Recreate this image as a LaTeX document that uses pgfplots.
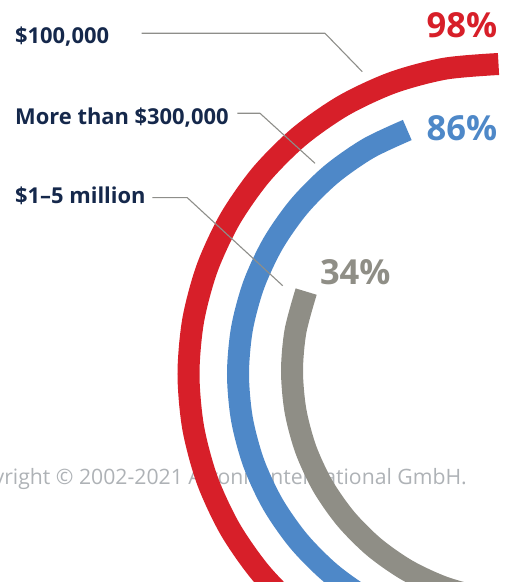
\documentclass[border=0pt]{standalone}
\usepackage{pgfplots}
\pgfplotsset{compat=1.18}
\usepackage{fontspec}
\setmainfont{Open Sans}

\definecolor{ringred}{HTML}{D71F29}
\definecolor{ringblue}{HTML}{4E88C8}
\definecolor{ringgray}{HTML}{8F8E86}
\definecolor{navy}{HTML}{15284B}
\definecolor{leadergray}{HTML}{8E8E8A}
\definecolor{copygray}{HTML}{AEB2B6}

\tikzset{
  lab/.style={font=\bfseries\fontsize{21.9bp}{24bp}\selectfont, text=navy, anchor=base west, inner sep=0pt},
  pct/.style={font=\bfseries\fontsize{34.5bp}{38bp}\selectfont, anchor=base east, inner sep=0pt},
}

\begin{document}
\begin{tikzpicture}
\path[use as bounding box] (0,0) rectangle (514bp,582bp);
\begin{axis}[
  at={(0,0)}, anchor=south west,
  x=1bp, y=1bp,
  xmin=-498.5, xmax=15.5, ymin=-208, ymax=374,
  hide axis, enlargelimits=false, clip=true,
  ring/.style={line width=22bp, smooth, no markers, data cs=polar},
  leader/.style={line width=1.1bp, leadergray, no markers},
]
% watermark sits under the rings
\node[font=\fontsize{21.2bp}{24bp}\selectfont, text=copygray, anchor=base east, inner sep=0pt]
  at (axis cs:-31.5,-110.3) {Copyright © 2002-2021 Atronic International GmbH.};

% $100,000 -- 98%
\addplot[ring, ringred] coordinates {
  (90,310) (100,310) (110,310) (120,310) (130,310) (140,310) (150,310)
  (160,310) (170,310) (180,310) (190,310) (200,310) (210,310) (220,310)
  (230,310) (240,310) (250,310) (260,310)
};
% More than $300,000 -- 86%
\addplot[ring, ringblue] coordinates {
  (110.5,260.5) (120,260.5) (130,260.5) (140,260.5) (150,260.5) (160,260.5)
  (170,260.5) (180,260.5) (190,260.5) (200,260.5) (210,260.5) (220,260.5)
  (230,260.5) (240,260.5) (250,260.5) (260,260.5)
};
% $1-5 million -- 34%
\addplot[ring, ringgray, xshift=23.5bp, yshift=3bp] coordinates {
  (159.8,230) (170,230) (180,230) (190,230) (200,230) (210,230) (220,230)
  (230,230) (240,230) (250,230) (260,230) (270,230) (280,230) (290,230)
  (300,230)
};

% leader lines
\addplot[leader] coordinates {(-356.8,340.7) (-173.5,340.7) (-136.2,302.3)};
\addplot[leader] coordinates {(-261.2,260.7) (-238.5,260.7) (-183.5,210.7)};
\addplot[leader] coordinates {(-346.2,176.3) (-311.2,176.3) (-215.8,88.3)};

\node[lab] at (axis cs:-483.5,330.5) {\$100,000};
\node[lab] at (axis cs:-483.5,249.7) {More than \$300,000};
\node[lab] at (axis cs:-483.5,170) {\$1–5 million};

\node[pct, text=ringred] at (axis cs:-1.2,336.7) {98\%};
\node[pct, text=ringblue] at (axis cs:-1.2,233.3) {86\%};
\node[pct, text=ringgray] at (axis cs:-107.8,89) {34\%};
\end{axis}
\end{tikzpicture}
\end{document}
